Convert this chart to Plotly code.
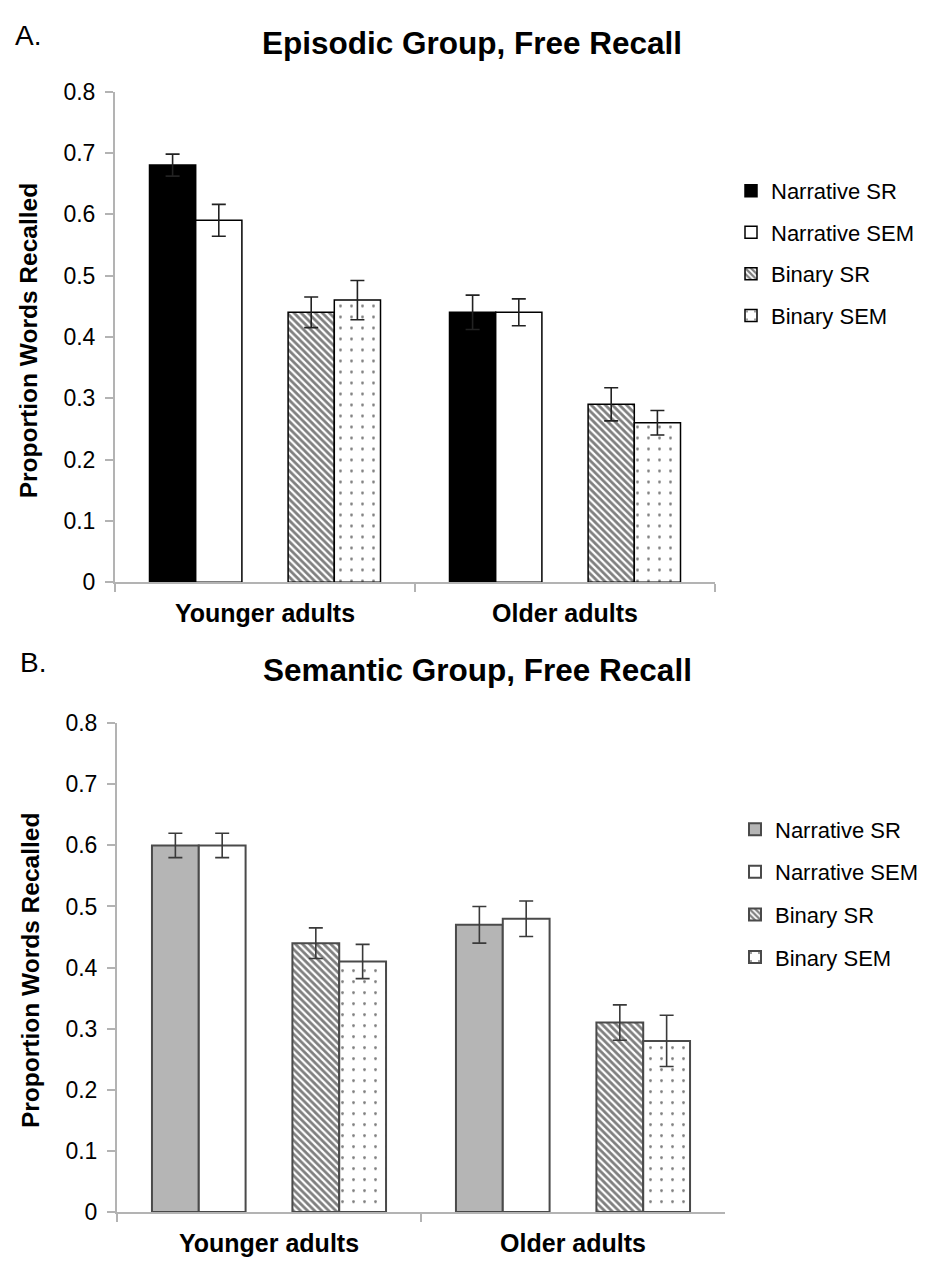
import plotly.graph_objects as go

# ---------------- data ----------------
groups = ["Younger adults", "Older adults"]
series_names = ["Narrative SR", "Narrative SEM", "Binary SR", "Binary SEM"]

# Panel A: Episodic group, free recall
epi_narr_sr = [0.68, 0.44]
epi_narr_sr_err = [0.018, 0.028]
epi_narr_sem = [0.59, 0.44]
epi_narr_sem_err = [0.026, 0.022]
epi_bin_sr = [0.44, 0.29]
epi_bin_sr_err = [0.025, 0.027]
epi_bin_sem = [0.46, 0.26]
epi_bin_sem_err = [0.032, 0.02]

# Panel B: Semantic group, free recall
sem_narr_sr = [0.60, 0.47]
sem_narr_sr_err = [0.02, 0.03]
sem_narr_sem = [0.60, 0.48]
sem_narr_sem_err = [0.02, 0.029]
sem_bin_sr = [0.44, 0.31]
sem_bin_sr_err = [0.025, 0.029]
sem_bin_sem = [0.41, 0.28]
sem_bin_sem_err = [0.028, 0.042]

y_ticks = [0, 0.1, 0.2, 0.3, 0.4, 0.5, 0.6, 0.7, 0.8]

# ---------------- layout helpers ----------------
# the page body has an 8px default margin, so the figure is sized to fill
# the rest of the 927x1270 window and page coordinates are shifted by it
PAGE_W, PAGE_H, BODY = 927, 1270, 8
W, H = PAGE_W - BODY, PAGE_H - BODY
FONT = "Liberation Sans, Arial, sans-serif"


def px(x):
    return (x - BODY) / W


def py(y):
    return 1 - (y - BODY) / H


fig = go.Figure()


def add_panel(vals, errs, xa, ya, legend, narr_sr_fill, outline, err_col, line_w):
    styles = [
        dict(color=narr_sr_fill, line=dict(color=outline, width=line_w)),
        dict(color="white", line=dict(color=outline, width=line_w)),
        dict(color="white", line=dict(color=outline, width=line_w),
             pattern=dict(shape="\\", fgcolor="black", bgcolor="white", size=5, solidity=0.55)),
        dict(color="white", line=dict(color=outline, width=line_w),
             pattern=dict(shape=".", fgcolor="black", bgcolor="white", size=11, solidity=0.05)),
    ]
    order = [0, 1, None, 2, 3]  # None = empty slot between the narrative and binary pairs
    for k in order:
        if k is None:
            fig.add_trace(go.Bar(x=groups, y=[None] * len(groups), xaxis=xa, yaxis=ya,
                                 showlegend=False, hoverinfo="skip", legend=legend,
                                 marker=dict(color="rgba(0,0,0,0)")))
            continue
        fig.add_trace(go.Bar(
            x=groups, y=vals[k], name=series_names[k], xaxis=xa, yaxis=ya,
            legend=legend, legendgroup=f"{legend}_{k}",
            marker=styles[k],
            error_y=dict(type="data", array=errs[k], color=err_col, thickness=1.6, width=7),
        ))


add_panel([epi_narr_sr, epi_narr_sem, epi_bin_sr, epi_bin_sem],
          [epi_narr_sr_err, epi_narr_sem_err, epi_bin_sr_err, epi_bin_sem_err],
          "x", "y", "legend", "black", "black", "#222222", 1.5)
add_panel([sem_narr_sr, sem_narr_sem, sem_bin_sr, sem_bin_sem],
          [sem_narr_sr_err, sem_narr_sem_err, sem_bin_sr_err, sem_bin_sem_err],
          "x2", "y2", "legend2", "#b5b5b5", "#4a4a4a", "#3a3a3a", 2)

axis_col = "#b3b3b3"
xcommon = dict(type="category", showline=True, linecolor=axis_col, linewidth=2,
               ticks="outside", tickson="boundaries", ticklen=8, tickcolor=axis_col,
               tickwidth=1.5, showgrid=False, zeroline=False, ticklabelstandoff=8,
               tickfont=dict(family=FONT, size=25, color="black", weight="bold"))
ycommon = dict(range=[0, 0.8], tickvals=y_ticks, ticktext=[f"{v:g}" for v in y_ticks],
               showline=True, linecolor=axis_col, linewidth=2,
               ticks="outside", ticklen=8, tickcolor=axis_col, tickwidth=1.5,
               showgrid=False, zeroline=False, ticklabelstandoff=5,
               tickfont=dict(family=FONT, size=23, color="black"))

legend_common = dict(xanchor="left", yanchor="top",
                     font=dict(family=FONT, size=22, color="black"),
                     bgcolor="rgba(0,0,0,0)", itemwidth=30)

fig.update_layout(
    width=W, height=H, margin=dict(l=0, r=0, t=0, b=0),
    paper_bgcolor="white", plot_bgcolor="white",
    barmode="group", bargap=0.23, bargroupgap=0,
    font=dict(family=FONT, color="black"),
    xaxis=dict(domain=[px(115), px(715)], anchor="y", **xcommon),
    yaxis=dict(domain=[py(581), py(80)], anchor="x", **ycommon),
    xaxis2=dict(domain=[px(117), px(725)], anchor="y2", **xcommon),
    yaxis2=dict(domain=[py(1224), py(725)], anchor="x2", **ycommon),
    legend=dict(x=px(731), y=py(160), tracegroupgap=10, **legend_common),
    legend2=dict(x=px(735), y=py(812), tracegroupgap=11, **legend_common),
    showlegend=True,
)

annos = [
    dict(text="A.", x=px(13), y=py(23), xanchor="left", yanchor="middle", font=dict(size=28)),
    dict(text="B.", x=px(18), y=py(663), xanchor="left", yanchor="middle", font=dict(size=28)),
    dict(text="<b>Episodic Group, Free Recall</b>", x=px(472), y=py(30),
         xanchor="center", yanchor="middle", font=dict(size=31.5)),
    dict(text="<b>Semantic Group, Free Recall</b>", x=px(477), y=py(671),
         xanchor="center", yanchor="middle", font=dict(size=31.5)),
    dict(text="<b>Proportion Words Recalled</b>", x=px(28), y=py(335), textangle=-90,
         xanchor="center", yanchor="middle", font=dict(size=24.5)),
    dict(text="<b>Proportion Words Recalled</b>", x=px(30), y=py(978), textangle=-90,
         xanchor="center", yanchor="middle", font=dict(size=24.5)),
]
for a in annos:
    a.update(xref="paper", yref="paper", showarrow=False)
    a["font"] = dict(family=FONT, color="black", **a["font"])
fig.update_layout(annotations=annos)

fig.write_html("out.html")
